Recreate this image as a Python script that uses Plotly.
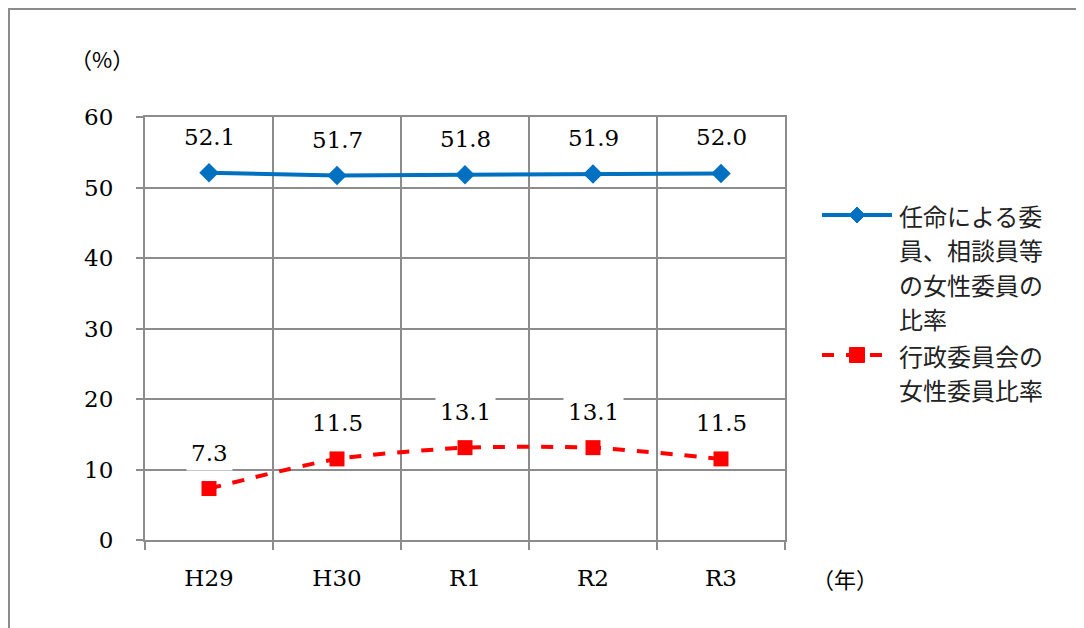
import plotly.graph_objects as go

# Data
years = ["H29", "H30", "R1", "R2", "R3"]
appointed = [52.1, 51.7, 51.8, 51.9, 52.0]
committee = [7.3, 11.5, 13.1, 13.1, 11.5]
legend_appointed = ["任命による委", "員、相談員等", "の女性委員の", "比率"]
legend_committee = ["行政委員会の", "女性委員比率"]

num_font = "'DejaVu Serif', serif"
jp_font = "Noto Sans CJK JP"
grid_col = "#8c8c8c"
blue = "#0070C0"
red = "#FF0000"

# plot area geometry (page has an 8px body margin)
L, T, PW, PH = 137, 109, 640, 423


def px(x):
    return (x - 8 - L) / PW


def py(y):
    return (T + PH - (y - 8)) / PH


fig = go.Figure()
fig.add_trace(go.Scatter(
    x=years, y=appointed, mode="lines+markers",
    line=dict(color=blue, width=4),
    marker=dict(symbol="diamond", size=15, color=blue),
))
fig.add_trace(go.Scatter(
    x=years, y=committee, mode="lines+markers",
    line=dict(color=red, width=4, dash="dash", shape="spline", smoothing=0.6),
    marker=dict(symbol="square", size=15, color=red),
))

# data labels with white boxes
annotations = []
for series in (appointed, committee):
    for x, v in zip(years, series):
        annotations.append(dict(
            x=x, y=v, text=f"{v:.1f}", showarrow=False, yshift=36,
            font=dict(family=num_font, size=23, color="#000"),
            bgcolor="white", borderpad=4,
        ))
annotations.append(dict(xref="paper", yref="paper", x=px(102), y=py(58), text="（%）",
                        xanchor="center", yanchor="middle", showarrow=False,
                        font=dict(family=jp_font, size=22, color="#000")))
annotations.append(dict(xref="paper", yref="paper", x=px(845), y=py(578), text="（年）",
                        xanchor="center", yanchor="middle", showarrow=False,
                        font=dict(family=jp_font, size=22, color="#000")))

# manual legend
shapes = [dict(type="rect", xref="paper", yref="paper",
               x0=px(9), x1=2, y0=-1, y1=py(9),
               line=dict(color=grid_col, width=2))]
rows = [(legend_appointed, 215), (legend_committee, 355)]
for lines, y0 in rows:
    for i, t in enumerate(lines):
        annotations.append(dict(xref="paper", yref="paper", x=px(897), y=py(y0 + i * 34.5),
                                text=t, xanchor="left", yanchor="middle", showarrow=False,
                                font=dict(family=jp_font, size=24, color="#222")))

ly = py(215)
shapes.append(dict(type="line", xref="paper", yref="paper", x0=px(822), x1=px(892),
                   y0=ly, y1=ly, line=dict(color=blue, width=4)))
dx, dy = 8 / PW, 8 / PH
cx = px(857)
shapes.append(dict(type="path", xref="paper", yref="paper",
                   path=f"M {cx - dx} {ly} L {cx} {ly + dy} L {cx + dx} {ly} L {cx} {ly - dy} Z",
                   fillcolor=blue, line=dict(color=blue, width=1)))
ry = py(355)
shapes.append(dict(type="line", xref="paper", yref="paper", x0=px(822), x1=px(892),
                   y0=ry, y1=ry, line=dict(color=red, width=4, dash="dash")))
sx, sy = 7.5 / PW, 7.5 / PH
shapes.append(dict(type="rect", xref="paper", yref="paper",
                   x0=cx - sx, x1=cx + sx, y0=ry - sy, y1=ry + sy,
                   fillcolor=red, line=dict(color=red, width=1)))

fig.update_layout(
    width=1076, height=620,
    margin=dict(l=L, r=1076 - L - PW, t=T, b=620 - T - PH),
    paper_bgcolor="white", plot_bgcolor="white",
    showlegend=False,
    annotations=annotations,
    shapes=shapes,
)
fig.update_xaxes(
    type="category", range=[-0.5, 4.5], tickson="boundaries",
    showgrid=True, gridcolor=grid_col, gridwidth=2,
    showline=True, linecolor=grid_col, linewidth=2, mirror=True,
    ticks="outside", ticklen=8, tickcolor=grid_col, tickwidth=2,
    ticklabelstandoff=16,
    tickfont=dict(family=num_font, size=23, color="#000"),
)
fig.update_yaxes(
    range=[0, 60], dtick=10,
    showgrid=True, gridcolor=grid_col, gridwidth=2,
    showline=True, linecolor=grid_col, linewidth=2, mirror=True,
    ticks="outside", ticklen=7, tickcolor=grid_col, tickwidth=2,
    ticklabelstandoff=18,
    tickfont=dict(family=num_font, size=23, color="#000"),
    zeroline=False,
)

fig.write_html("out.html")
